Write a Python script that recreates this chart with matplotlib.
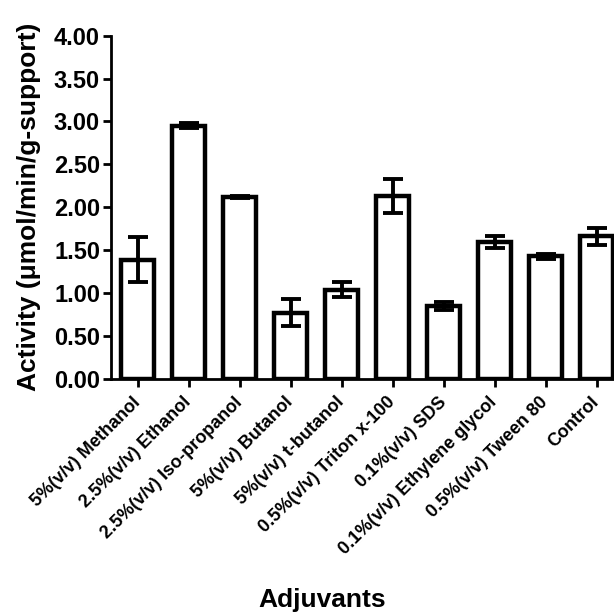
import numpy as np
import matplotlib
matplotlib.use("Agg")
import matplotlib.pyplot as plt
from matplotlib.ticker import FormatStrFormatter

plt.rcParams['font.family'] = ['Liberation Sans', 'DejaVu Sans']
plt.rcParams['font.weight'] = 'bold'

adjuvants = ["5%(v/v) Methanol", "2.5%(v/v) Ethanol", "2.5%(v/v) Iso-propanol",
             "5%(v/v) Butanol", "5%(v/v) t-butanol", "0.5%(v/v) Triton x-100",
             "0.1%(v/v) SDS", "0.1%(v/v) Ethylene glycol", "0.5%(v/v) Tween 80",
             "Control"]
activity = [1.39, 2.95, 2.12, 0.77, 1.04, 2.13, 0.85, 1.60, 1.43, 1.66]
sd = [0.26, 0.03, 0.01, 0.16, 0.09, 0.20, 0.05, 0.07, 0.03, 0.10]

x = np.arange(len(adjuvants))

fig = plt.figure(figsize=(6.14, 6.14), dpi=100)
ax = fig.add_axes([0.181, 0.383, 0.819, 0.559])

ax.bar(x, activity, width=0.64, color='white', edgecolor='black', linewidth=3.2, zorder=2)
ax.errorbar(x, activity, yerr=sd, fmt='none', ecolor='black', elinewidth=2.8,
            capsize=7, capthick=2.8, zorder=3)

ax.set_xlim(-0.52, 9.34)
ax.set_ylim(0, 4.0)
ax.set_yticks(np.arange(0, 4.01, 0.5))
ax.yaxis.set_major_formatter(FormatStrFormatter('%.2f'))

ax.spines['top'].set_visible(False)
ax.spines['right'].set_visible(False)
ax.spines['left'].set_linewidth(2)
ax.spines['bottom'].set_linewidth(2)
ax.tick_params(axis='both', width=2, length=6)
ax.tick_params(axis='y', labelsize=17, pad=2)

ax.set_xticks(x)
ax.set_xticklabels(adjuvants, rotation=45, ha='right', va='center',
                   rotation_mode='anchor', fontsize=13, fontweight='bold')
ax.tick_params(axis='x', pad=9)

ax.set_ylabel("Activity (\u03bcmol/min/g-support)", fontsize=19, fontweight='bold')
ax.yaxis.set_label_coords(-0.14, 0.5)
fig.text(322 / 614, 1 - 600 / 614, "Adjuvants", ha='center', va='center',
         fontsize=19, fontweight='bold')

fig.savefig("out.png", dpi=100)
